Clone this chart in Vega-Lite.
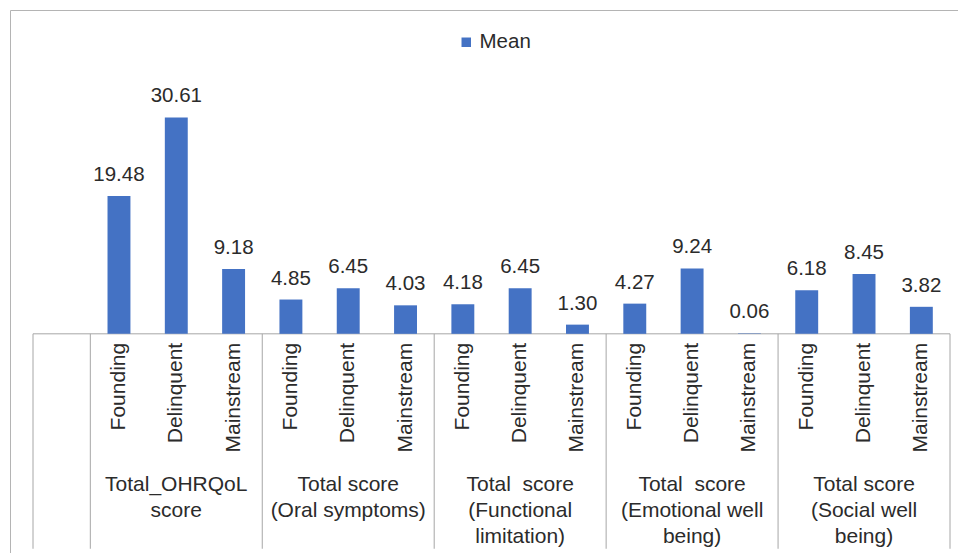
{
  "$schema": "https://vega.github.io/schema/vega-lite/v6.json",
  "autosize": {"type": "none"},
  "padding": {"left": 10, "top": 10, "right": 0, "bottom": 0},
  "width": 948,
  "height": 543,
  "background": "white",
  "config": {
    "view": {"stroke": "#B4B4B4", "strokeWidth": 1},
    "text": {"font": "Liberation Sans", "fill": "#2B2B2B"},
    "legend": {"labelFont": "Liberation Sans", "labelFontSize": 20.5, "labelColor": "#2B2B2B"}
  },
  "datasets": {
    "bars": [
      {"slot": "s1", "cat": "Founding", "mean": 19.48, "series": "Mean"},
      {"slot": "s2", "cat": "Delinquent", "mean": 30.61, "series": "Mean"},
      {"slot": "s3", "cat": "Mainstream", "mean": 9.18, "series": "Mean"},
      {"slot": "s4", "cat": "Founding", "mean": 4.85, "series": "Mean"},
      {"slot": "s5", "cat": "Delinquent", "mean": 6.45, "series": "Mean"},
      {"slot": "s6", "cat": "Mainstream", "mean": 4.03, "series": "Mean"},
      {"slot": "s7", "cat": "Founding", "mean": 4.18, "series": "Mean"},
      {"slot": "s8", "cat": "Delinquent", "mean": 6.45, "series": "Mean"},
      {"slot": "s9", "cat": "Mainstream", "mean": 1.30, "series": "Mean"},
      {"slot": "s10", "cat": "Founding", "mean": 4.27, "series": "Mean"},
      {"slot": "s11", "cat": "Delinquent", "mean": 9.24, "series": "Mean"},
      {"slot": "s12", "cat": "Mainstream", "mean": 0.06, "series": "Mean"},
      {"slot": "s13", "cat": "Founding", "mean": 6.18, "series": "Mean"},
      {"slot": "s14", "cat": "Delinquent", "mean": 8.45, "series": "Mean"},
      {"slot": "s15", "cat": "Mainstream", "mean": 3.82, "series": "Mean"}
    ],
    "groups": [
      {"slot": "s2", "label": "Total_OHRQoL\nscore"},
      {"slot": "s5", "label": "Total score\n(Oral symptoms)"},
      {"slot": "s8", "label": "Total \u00a0score\n(Functional\nlimitation)"},
      {"slot": "s11", "label": "Total \u00a0score\n(Emotional well\nbeing)"},
      {"slot": "s14", "label": "Total score\n(Social well\nbeing)"}
    ],
    "seps": [
      {"slot": "s0"}, {"slot": "s1"}, {"slot": "s4"}, {"slot": "s7"}, {"slot": "s10"}, {"slot": "s13"}
    ],
    "sepEnd": [{"slot": "s15"}],
    "base": [{"slot": "s0", "slotEnd": "s15"}]
  },
  "encoding": {
    "x": {
      "field": "slot",
      "type": "nominal",
      "axis": null,
      "scale": {
        "type": "band",
        "domain": ["s0","s1","s2","s3","s4","s5","s6","s7","s8","s9","s10","s11","s12","s13","s14","s15"],
        "paddingInner": 0,
        "paddingOuter": 0.2705,
        "align": 0.742
      }
    }
  },
  "layer": [
    {
      "data": {"name": "seps"},
      "mark": {"type": "rule", "color": "#A6A6A6", "strokeWidth": 1},
      "encoding": {
        "x": {"field": "slot", "type": "nominal", "bandPosition": 0},
        "y": {"datum": 0, "scale": {"domain": [-31, 45.8], "nice": false, "zero": false}, "axis": null},
        "y2": {"datum": -30.4}
      }
    },
    {
      "data": {"name": "sepEnd"},
      "mark": {"type": "rule", "color": "#A6A6A6", "strokeWidth": 1},
      "encoding": {
        "x": {"field": "slot", "type": "nominal", "bandPosition": 1},
        "y": {"datum": 0},
        "y2": {"datum": -30.4}
      }
    },
    {
      "data": {"name": "base"},
      "mark": {"type": "rule", "color": "#A6A6A6", "strokeWidth": 1},
      "encoding": {
        "x": {"field": "slot", "type": "nominal", "bandPosition": 0},
        "x2": {"field": "slotEnd", "bandPosition": 1},
        "y": {"datum": 0}
      }
    },
    {
      "data": {"name": "bars"},
      "mark": {"type": "bar", "width": {"band": 0.4}},
      "encoding": {
        "y": {"field": "mean", "type": "quantitative"},
        "y2": {"datum": 0},
        "color": {
          "field": "series",
          "type": "nominal",
          "scale": {"domain": ["Mean"], "range": ["#4472C4"]},
          "legend": {
            "title": null,
            "orient": "none",
            "legendX": 446,
            "legendY": 22,
            "symbolType": "square",
            "symbolSize": 90,
            "symbolStrokeWidth": 0,
            "labelOffset": 3,
            "padding": 0
          }
        }
      }
    },
    {
      "data": {"name": "bars"},
      "mark": {"type": "text", "fontSize": 20.5, "align": "center", "baseline": "alphabetic", "dy": -15},
      "encoding": {
        "y": {"field": "mean", "type": "quantitative"},
        "text": {"field": "mean", "type": "quantitative", "format": ".2f"}
      }
    },
    {
      "data": {"name": "bars"},
      "mark": {"type": "text", "fontSize": 21, "angle": 270, "align": "right", "baseline": "middle", "dx": -9},
      "encoding": {
        "y": {"datum": 0},
        "text": {"field": "cat", "type": "nominal"}
      }
    },
    {
      "data": {"name": "groups"},
      "mark": {"type": "text", "fontSize": 21, "align": "center", "baseline": "top", "lineBreak": "\n", "lineHeight": 26},
      "encoding": {
        "y": {"datum": -19.8},
        "text": {"field": "label", "type": "nominal"}
      }
    }
  ]
}
